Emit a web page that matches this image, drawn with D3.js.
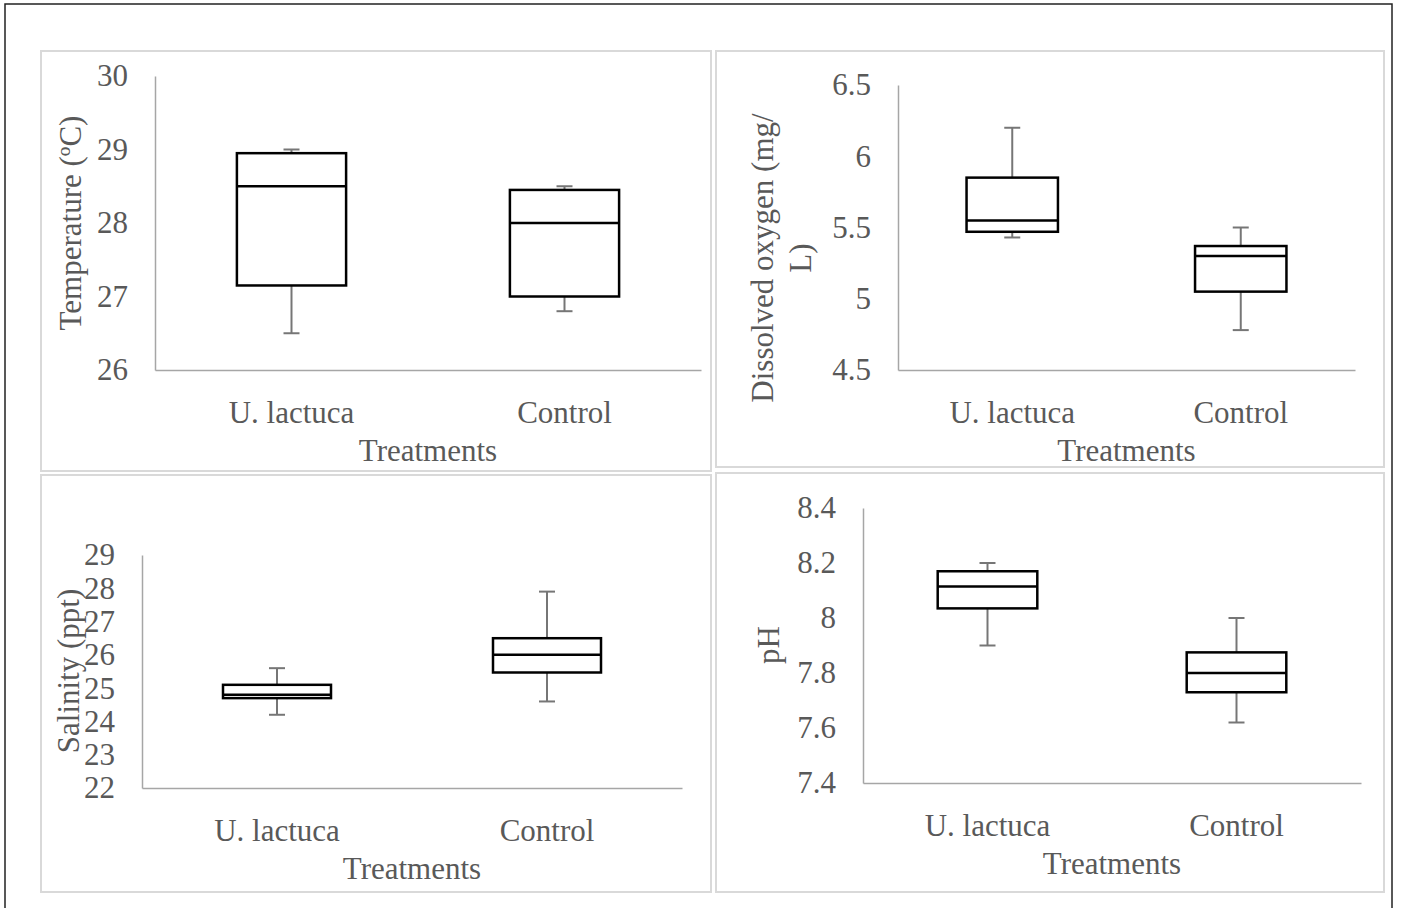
<!DOCTYPE html>
<html>
<head>
<meta charset="utf-8">
<script src="https://cdn.jsdelivr.net/npm/d3@7"></script>
<style>
  html, body { margin: 0; padding: 0; background: #fff; }
  svg { display: block; }
  text { font-family: "Liberation Serif", "Times New Roman", serif; fill: #595959; }
</style>
</head>
<body>
<div id="chart"></div>
<script>
// categories
const treatments = ['U. lactuca', 'Control'];

// box stats per treatment: [min, q1, median, q3, max]
const temperatureStats = [[26.5, 27.15, 28.5, 28.95, 29.0], [26.8, 27.0, 28.0, 28.45, 28.5]];
const oxygenStats = [[5.43, 5.47, 5.55, 5.85, 6.2], [4.78, 5.05, 5.3, 5.37, 5.5]];
const salinityStats = [[24.2, 24.7, 24.8, 25.1, 25.6], [24.6, 25.47, 26.0, 26.5, 27.9]];
const phStats = [[7.9, 8.035, 8.115, 8.17, 8.2], [7.62, 7.73, 7.8, 7.875, 8.0]];

// tick labels
const temperatureTicks = [26, 27, 28, 29, 30];
const oxygenTicks = [4.5, 5, 5.5, 6, 6.5];
const salinityTicks = [22, 23, 24, 25, 26, 27, 28, 29];
const phTicks = [7.4, 7.6, 7.8, 8, 8.2, 8.4];

const W = 1401, H = 908;
const FONT = 31;

const svg = d3.select('#chart').append('svg')
  .attr('width', W)
  .attr('height', H);

// outer frame (bottom edge runs off the picture)
svg.append('rect')
  .attr('x', 5).attr('y', 4)
  .attr('width', 1387).attr('height', 920)
  .attr('fill', 'none')
  .attr('stroke', '#222')
  .attr('stroke-width', 1.5);

const panels = [
  { stats: temperatureStats, ticks: temperatureTicks, title: ['Temperature (ºC)'],
    frame: [41, 51, 711, 471], plot: [155, 76, 701, 370], titleX: [81], titleY: 223 },
  { stats: oxygenStats, ticks: oxygenTicks, title: ['Dissolved oxygen (mg/', 'L)'],
    frame: [716, 51, 1384, 467], plot: [898, 85, 1355, 370], titleX: [773, 811], titleY: 258 },
  { stats: salinityStats, ticks: salinityTicks, title: ['Salinity (ppt)'],
    frame: [41, 475, 711, 892], plot: [142, 555, 682, 788], titleX: [79], titleY: 671 },
  { stats: phStats, ticks: phTicks, title: ['pH'],
    frame: [716, 473, 1384, 892], plot: [863, 508, 1361, 783], titleX: [779], titleY: 645 }
];

panels.forEach(p => drawPanel(p));

function drawPanel(p) {
  const [fx0, fy0, fx1, fy1] = p.frame;
  const [left, top, right, bottom] = p.plot;

  svg.append('rect')
    .attr('x', fx0).attr('y', fy0)
    .attr('width', fx1 - fx0).attr('height', fy1 - fy0)
    .attr('fill', '#fff')
    .attr('stroke', '#d9d9d9')
    .attr('stroke-width', 2);

  const y = d3.scaleLinear()
    .domain(d3.extent(p.ticks))
    .range([bottom, top]);

  const x = d3.scaleBand()
    .domain(treatments)
    .range([left, right])
    .padding(0);

  const g = svg.append('g');

  // y axis
  const yAxis = g.append('g')
    .attr('transform', `translate(${left},0)`)
    .call(d3.axisLeft(y).tickValues(p.ticks).tickSize(0).tickSizeOuter(0).tickPadding(27)
      .tickFormat(d => String(+d.toFixed(2))));
  yAxis.select('.domain').attr('stroke', '#a6a6a6').attr('stroke-width', 1.5);
  yAxis.selectAll('text')
    .attr('font-size', FONT)
    .attr('font-family', null)
    .attr('fill', '#595959');

  // x axis
  const xAxis = g.append('g')
    .attr('transform', `translate(0,${bottom})`)
    .call(d3.axisBottom(x).tickSize(0).tickSizeOuter(0).tickPadding(31));
  xAxis.select('.domain').attr('stroke', '#a6a6a6').attr('stroke-width', 1.5);
  xAxis.selectAll('text')
    .attr('font-size', FONT)
    .attr('fill', '#595959');
  svg.selectAll('g').attr('font-family', null);

  // x title
  g.append('text')
    .attr('x', (left + right) / 2)
    .attr('y', bottom + 91)
    .attr('text-anchor', 'middle')
    .attr('font-size', FONT)
    .text('Treatments');

  // y title
  p.title.forEach((line, i) => {
    g.append('text')
      .attr('transform', `translate(${p.titleX[i]},${p.titleY}) rotate(-90)`)
      .attr('text-anchor', 'middle')
      .attr('font-size', FONT)
      .text(line);
  });

  // boxes
  const bw = x.bandwidth() * 0.4;
  const capW = 16;
  const box = g.selectAll('g.box')
    .data(p.stats.map((s, i) => ({ cat: treatments[i], s })))
    .join('g')
    .attr('class', 'box');

  const cx = d => x(d.cat) + x.bandwidth() / 2;

  // whiskers
  box.append('line')
    .attr('x1', cx).attr('x2', cx)
    .attr('y1', d => y(d.s[4])).attr('y2', d => y(d.s[3]))
    .attr('stroke', '#767676').attr('stroke-width', 2);
  box.append('line')
    .attr('x1', cx).attr('x2', cx)
    .attr('y1', d => y(d.s[1])).attr('y2', d => y(d.s[0]))
    .attr('stroke', '#767676').attr('stroke-width', 2);
  [0, 4].forEach(k => {
    box.append('line')
      .attr('x1', d => cx(d) - capW / 2).attr('x2', d => cx(d) + capW / 2)
      .attr('y1', d => y(d.s[k])).attr('y2', d => y(d.s[k]))
      .attr('stroke', '#767676').attr('stroke-width', 2);
  });

  box.append('rect')
    .attr('x', d => cx(d) - bw / 2)
    .attr('width', bw)
    .attr('y', d => y(d.s[3]))
    .attr('height', d => y(d.s[1]) - y(d.s[3]))
    .attr('fill', '#fff')
    .attr('stroke', '#000')
    .attr('stroke-width', 2.5);

  box.append('line')
    .attr('x1', d => cx(d) - bw / 2).attr('x2', d => cx(d) + bw / 2)
    .attr('y1', d => y(d.s[2])).attr('y2', d => y(d.s[2]))
    .attr('stroke', '#000')
    .attr('stroke-width', 2.5);
}
</script>
</body>
</html>
